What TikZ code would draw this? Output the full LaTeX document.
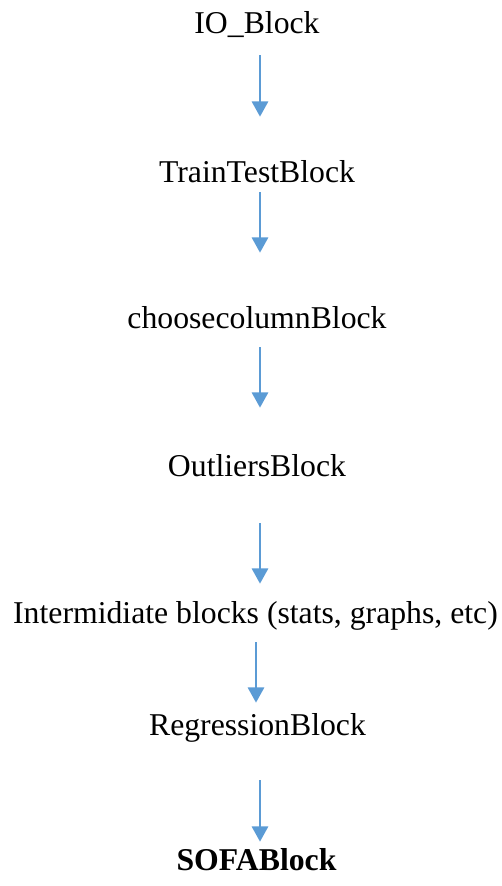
\documentclass[tikz,border=0pt]{standalone}
\usepackage{fontspec}
\setmainfont{Liberation Serif}
\usepackage{tikz}
\usetikzlibrary{arrows.meta}
\usepackage{xcolor}
\definecolor{flowc}{HTML}{5B9BD5}
\tikzset{
  blk/.style={anchor=base, inner sep=0pt, text height=16.5pt, text depth=6pt, font=\fontsize{23.8}{28}\selectfont},
  flow/.style={draw=flowc, line width=2.2pt, -{Triangle[width=12pt,length=11.5pt]}},
}

\begin{document}
\begin{tikzpicture}[x=0.75pt, y=-0.75pt]
\useasboundingbox (0,0) rectangle (502,886);
\node[blk] (io) at (257,33) {IO\_Block};
\node[blk] (tt) at (257,182) {TrainTestBlock};
\node[blk] (cc) at (257,328) {choosecolumnBlock};
\node[blk] (ol) at (257,476) {OutliersBlock};
\node[blk] (im) at (255.5,623) {Intermidiate blocks (stats, graphs, etc)};
\node[blk] (rg) at (257.5,735) {RegressionBlock};
\node[blk] (sb) at (256.5,870) {\bfseries SOFABlock};
\coordinate (ax) at (260,0);
\coordinate (bx) at (256,0);
\draw[flow, shorten <=10.5pt, shorten >=32.25pt] (io.south -| ax) -- (tt.north -| ax);
\draw[flow, shorten <=1.5pt, shorten >=39.75pt] (tt.south -| ax) -- (cc.north -| ax);
\draw[flow, shorten <=8.25pt, shorten >=34.5pt] (cc.south -| ax) -- (ol.north -| ax);
\draw[flow, shorten <=29.25pt, shorten >=12.75pt] (ol.south -| ax) -- (im.north -| ax);
\draw[flow, shorten <=8.25pt, shorten >=7.5pt] (im.south -| bx) -- (rg.north -| bx);
\draw[flow, shorten <=27.75pt, shorten >=4.5pt] (rg.south -| ax) -- (sb.north -| ax);
\end{tikzpicture}
\end{document}
